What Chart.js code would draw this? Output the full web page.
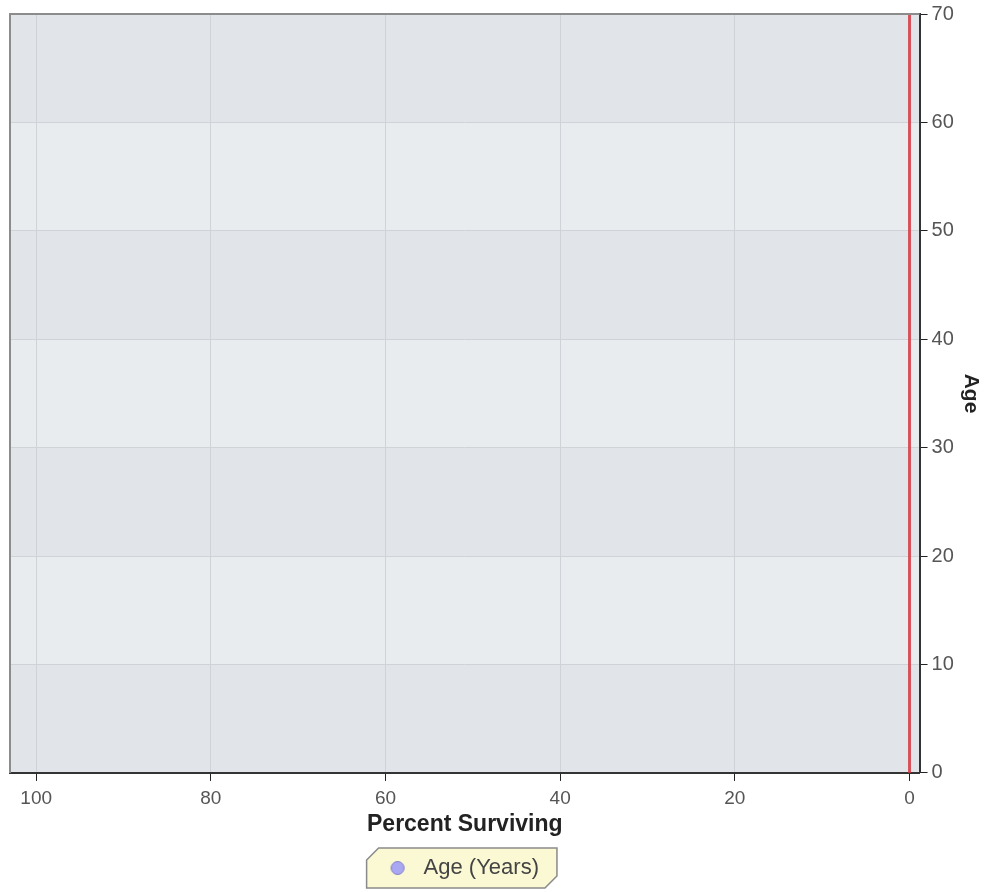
<!DOCTYPE html>
<html>
<head>
<meta charset="utf-8">
<script src="https://cdn.jsdelivr.net/npm/chart.js@4.4.1/dist/chart.umd.min.js"></script>
<style>
  html, body { margin: 0; padding: 0; background: #ffffff; }
  #wrap { width: 989px; height: 892px; }
</style>
</head>
<body>
<div id="wrap"><canvas id="chart" width="989" height="892"></canvas></div>
<script>
// data
const ages = [0, 10, 20, 30, 40, 50, 60, 70];
const percentSurviving = [0, 0, 0, 0, 0, 0, 0, 0];
const xTicks = [0, 20, 40, 60, 80, 100];
const yTicks = [0, 10, 20, 30, 40, 50, 60, 70];
const seriesName = "Age (Years)";

const points = ages.map((a, i) => ({ x: percentSurviving[i], y: a }));
const FONT = "Liberation Sans, Arial, sans-serif";

// legend marker: small lavender dot, a bit left of its box centre
const marker = document.createElement("canvas");
marker.width = 34;
marker.height = 16;
(function () {
  const c = marker.getContext("2d");
  c.beginPath();
  c.arc(13, 8, 6.5, 0, Math.PI * 2);
  c.fillStyle = "#a9a6f2";
  c.fill();
  c.strokeStyle = "#8583c4";
  c.lineWidth = 1;
  c.stroke();
})();

// alternating bands + plot frame + legend box
const decor = {
  id: "decor",
  beforeDraw(chart) {
    const { ctx, chartArea: ca, scales } = chart;
    const y = scales.y;
    ctx.save();
    for (let i = 0; i < yTicks.length - 1; i++) {
      const top = y.getPixelForValue(yTicks[i + 1]);
      const bot = y.getPixelForValue(yTicks[i]);
      ctx.fillStyle = i % 2 === 0 ? "#e1e4e8" : "#e8ecef";
      ctx.fillRect(ca.left, top, ca.right - ca.left, bot - top);
    }
    const lg = chart.legend;
    if (lg && lg.legendHitBoxes && lg.legendHitBoxes.length) {
      const hb = lg.legendHitBoxes[0];
      const l = hb.left - 24, r = hb.left + hb.width + 18;
      const t = hb.top - 9, b = hb.top + hb.height + 9;
      const c = 12;
      ctx.beginPath();
      ctx.moveTo(l + c, t);
      ctx.lineTo(r, t);
      ctx.lineTo(r, b - c);
      ctx.lineTo(r - c, b);
      ctx.lineTo(l, b);
      ctx.lineTo(l, t + c);
      ctx.closePath();
      ctx.fillStyle = "#fbf8d4";
      ctx.fill();
      ctx.strokeStyle = "#8a8a8a";
      ctx.lineWidth = 1.5;
      ctx.stroke();
    }
    ctx.restore();
  },
  afterDraw(chart) {
    const { ctx, chartArea: ca } = chart;
    ctx.save();
    ctx.strokeStyle = "#8c8c8c";
    ctx.lineWidth = 2;
    ctx.beginPath();
    ctx.moveTo(ca.left, ca.bottom);
    ctx.lineTo(ca.left, ca.top);
    ctx.lineTo(ca.right, ca.top);
    ctx.stroke();
    ctx.restore();
  }
};

new Chart(document.getElementById("chart"), {
  type: "scatter",
  data: {
    datasets: [{
      label: seriesName,
      data: points,
      showLine: true,
      borderColor: "rgba(214, 48, 58, 0.8)",
      borderWidth: 3,
      pointRadius: 0,
      backgroundColor: "#a9a6f2"
    }]
  },
  plugins: [decor],
  options: {
    responsive: false,
    animation: false,
    layout: { padding: { left: 10, top: 6, right: 2, bottom: 3 } },
    plugins: {
      tooltip: { enabled: false },
      legend: {
        position: "bottom",
        fullSize: false,
        labels: {
          font: { family: FONT, size: 22 },
          color: "#444",
          usePointStyle: true,
          boxWidth: 30,
          boxHeight: 14,
          padding: 12,
          generateLabels() {
            return [{
              text: seriesName,
              fillStyle: "#a9a6f2",
              strokeStyle: "#8583c4",
              lineWidth: 1,
              pointStyle: marker,
              fontColor: "#444",
              datasetIndex: 0
            }];
          }
        }
      }
    },
    scales: {
      x: {
        type: "linear",
        reverse: true,
        min: -1.15,
        max: 103,
        afterBuildTicks(scale) { scale.ticks = xTicks.map(v => ({ value: v })); },
        grid: { color: "#cfd3d7", tickColor: "#222", tickLength: 8, lineWidth: 1 },
        border: { color: "#333", width: 2 },
        ticks: { font: { family: FONT, size: 19 }, color: "#555", padding: 6 },
        title: {
          display: true,
          text: "Percent Surviving",
          font: { family: FONT, size: 23, weight: "bold", lineHeight: 0.75 },
          color: "#222",
          padding: { top: 0, bottom: 12 }
        }
      },
      y: {
        type: "linear",
        position: "right",
        min: 0,
        max: 70,
        afterBuildTicks(scale) { scale.ticks = yTicks.map(v => ({ value: v })); },
        grid: { color: "#cfd3d7", tickColor: "#222", tickLength: 8, lineWidth: 1 },
        border: { color: "#333", width: 2 },
        ticks: { font: { family: FONT, size: 20, lineHeight: 1.0 }, color: "#555", padding: 4 },
        title: {
          display: true,
          text: "Age",
          font: { family: FONT, size: 21, weight: "bold" },
          color: "#222",
          padding: { top: 4, bottom: 0 }
        }
      }
    }
  }
});
</script>
</body>
</html>
